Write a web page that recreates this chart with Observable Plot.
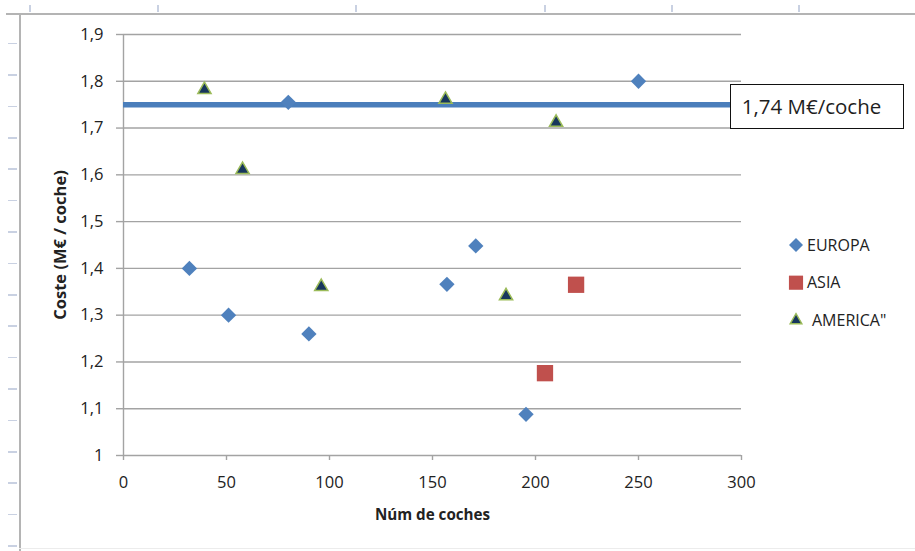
<!DOCTYPE html>
<html>
<head>
<meta charset="utf-8">
<script src="https://cdn.jsdelivr.net/npm/d3@7"></script>
<script src="https://cdn.jsdelivr.net/npm/@observablehq/plot@0.6"></script>
<style>
  html, body { margin: 0; padding: 0; background: #fff; }
  #wrap { position: relative; width: 915px; height: 551px; overflow: hidden; font-family: "Open Sans", sans-serif; }
  #wrap svg.plot { position: absolute; left: 0; top: 0; background: transparent; }
  .frame-left { position: absolute; left: 19px; top: 13px; width: 1.5px; bottom: 0; background: #b4b4b4; }
  .frame-top { position: absolute; left: 6px; top: 13px; right: 0; height: 1.5px; background: #b4b4b4; }
  .frame-bottom { position: absolute; left: 19px; top: 548px; right: 0; height: 1px; background: #ececec; }
  .ruler-left { position: absolute; left: 8px; width: 9px; top: 13px; bottom: 0;
    background: repeating-linear-gradient(to bottom, transparent 0, transparent 29.9px, #c9d1e2 29.9px, #c9d1e2 31.4px); }
  .ruler-top-tick { position: absolute; top: 5px; width: 1.5px; height: 7px; background: #c9d1e2; }
  .callout { position: absolute; box-sizing: border-box; border: 1.5px solid #111; background: #fff;
    font-size: 20.5px; color: #1e1e1e; display: flex; align-items: center; padding-left: 11px; white-space: nowrap; }
</style>
</head>
<body>
<div id="wrap"></div>
<script>
// ---- data ----
const europaX = [32, 51, 90, 80, 157, 171, 195.4, 250];
const europaY = [1.40, 1.30, 1.26, 1.755, 1.366, 1.448, 1.088, 1.80];
const asiaX = [204.6, 219.7];
const asiaY = [1.176, 1.365];
const americaX = [39.3, 57.8, 96, 156.3, 185.7, 210];
const americaY = [1.782, 1.611, 1.361, 1.761, 1.341, 1.712];
const seriesNames = ["EUROPA", "ASIA", "AMERICA\""];
const xTicks = [0, 50, 100, 150, 200, 250, 300];
const yTicks = [1, 1.1, 1.2, 1.3, 1.4, 1.5, 1.6, 1.7, 1.8, 1.9];
const avgY = 1.75;
const avgLineX = [0, 295];
const avgLabel = "1,74 M€/coche";
const xTitle = "Núm de coches";
const yTitle = "Coste (M€ / coche)";
const topRulerTicks = [29, 157, 355, 544, 671, 798];

const toRows = (xs, ys) => xs.map((x, i) => ({x, y: ys[i]}));
const europa = toRows(europaX, europaY);
const asia = toRows(asiaX, asiaY);
const america = toRows(americaX, americaY);

const fmt = d => String(Math.round(d * 10) / 10).replace(".", ",");
const gridColor = "#a3a3a3";
const textColor = "#222222";
const blue = "#4f81bd", red = "#c0504d", navy = "#17365d", green = "#9bbb59";

const wrap = document.getElementById("wrap");
wrap.insertAdjacentHTML("beforeend",
  '<div class="ruler-left"></div><div class="frame-left"></div><div class="frame-top"></div><div class="frame-bottom"></div>' +
  topRulerTicks.map(x => `<div class="ruler-top-tick" style="left:${x}px"></div>`).join(""));

const chart = Plot.plot({
  width: 915,
  height: 551,
  marginLeft: 123,
  marginRight: 174,
  marginTop: 34,
  marginBottom: 96,
  style: {background: "transparent", fontFamily: "Open Sans", fontSize: "16px", color: textColor, overflow: "visible"},
  x: {domain: [0, 300]},
  y: {domain: [1, 1.9]},
  marks: [
    Plot.gridY(yTicks, {stroke: gridColor, strokeOpacity: 1, strokeWidth: 1.4}),
    Plot.ruleX([0], {stroke: gridColor, strokeWidth: 1.4}),
    Plot.axisY(yTicks, {tickSize: 7, tickPadding: 13, tickFormat: fmt, stroke: gridColor, strokeWidth: 1.4, fill: textColor, fontSize: 16.5, label: null}),
    Plot.axisX(xTicks, {tickSize: 5, tickPadding: 16, tickFormat: d => String(d), stroke: gridColor, strokeWidth: 1.4, fill: textColor, fontSize: 16.5, label: null}),
    Plot.text([xTitle], {frameAnchor: "bottom", lineAnchor: "middle", dy: 60, fontWeight: "bold", fontSize: 15.2, fill: textColor}),
    Plot.text([yTitle], {frameAnchor: "left", textAnchor: "middle", lineAnchor: "middle", dx: -63, rotate: -90, fontWeight: "bold", fontSize: 16.5, fill: textColor}),
    Plot.ruleY([avgY], {x1: avgLineX[0], x2: avgLineX[1], stroke: "#4a7ebb", strokeWidth: 5.5}),
    Plot.dot(europa, {x: "x", y: "y", symbol: "diamond2", r: 6.9, fill: blue, stroke: "none"}),
    Plot.dot(asia, {x: "x", y: "y", symbol: "square", r: 9.2, fill: red, stroke: "none"}),
    Plot.dot(america, {x: "x", y: "y", symbol: "triangle", r: 4.9, fill: navy, stroke: green, strokeWidth: 1.5})
  ]
});
chart.classList.add("plot");
wrap.appendChild(chart);

// callout box attached to the end of the average line
const sx = chart.scale("x"), sy = chart.scale("y");
const boxLeft = sx.apply(avgLineX[1]);
const boxMid = sy.apply(avgY) + 2;
const callout = document.createElement("div");
callout.className = "callout";
callout.style.left = (boxLeft - 1) + "px";
callout.style.top = (boxMid - 22.5) + "px";
callout.style.width = "174px";
callout.style.height = "45px";
callout.textContent = avgLabel;
wrap.appendChild(callout);

// legend
const legendSymbols = [
  {sym: d3.symbolDiamond2, size: 125, fill: blue, stroke: "none", sw: 0},
  {sym: d3.symbolSquare, size: 200, fill: red, stroke: "none", sw: 0},
  {sym: d3.symbolTriangle, size: 60, fill: navy, stroke: green, sw: 1.4}
];
const legend = d3.select(wrap).append("svg")
  .attr("width", 140).attr("height", 120)
  .style("position", "absolute").style("left", "780px").style("top", "225px")
  .style("font-family", "Open Sans").style("font-size", "16px");
seriesNames.forEach((name, i) => {
  const g = legend.append("g").attr("transform", `translate(16,${20 + i * 37.7})`);
  const s = legendSymbols[i];
  g.append("path").attr("d", d3.symbol(s.sym, s.size)()).attr("fill", s.fill)
    .attr("stroke", s.stroke).attr("stroke-width", s.sw);
  g.append("text").attr("x", i === 2 ? 16 : 11).attr("dy", "0.35em").attr("fill", textColor).text(name);
});
</script>
</body>
</html>
